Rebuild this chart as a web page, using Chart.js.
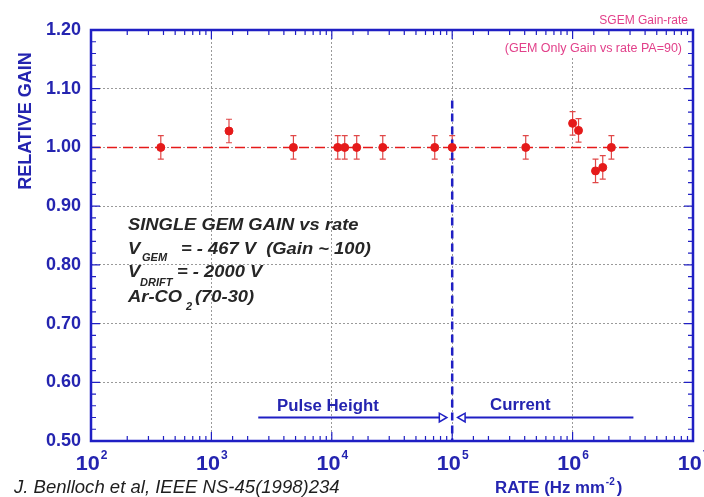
<!DOCTYPE html>
<html lang="en">
<head>
  <meta charset="UTF-8" />
  <title>SGEM Gain-rate</title>
  <script src="https://cdn.jsdelivr.net/npm/chart.js"></script>
  <style>
    html, body { margin: 0; padding: 0; background: #fff; }
    #wrap { width: 704px; height: 497px; }
  </style>
</head>
<body>
  <div id="wrap"><canvas id="gainChart" width="704" height="497"></canvas></div>

  <script>
    // measured points (rate in Hz/mm2, relative gain, error)
    const rates = [380, 1400, 4800, 11200, 12800, 16100, 26500, 71600, 100000, 408000, 1.0e6, 1.12e6, 1.55e6, 1.78e6, 2.1e6];
    const gains = [1.00, 1.028, 1.00, 1.00, 1.00, 1.00, 1.00, 1.00, 1.00, 1.00, 1.041, 1.029, 0.960, 0.966, 1.00];
    const gainErrors = [0.02, 0.02, 0.02, 0.02, 0.02, 0.02, 0.02, 0.02, 0.02, 0.02, 0.02, 0.02, 0.02, 0.02, 0.02];

    // reference line at unity and the pulse height / current boundary
    const unityX = [100, 2.9e6];
    const unityY = [1.0, 1.0];
    const boundaryX = [1e5, 1e5];
    const boundaryY = [1.08, 0.5];
    const pulseArrowX = [2450, 82000];
    const currentArrowX = [122000, 3.2e6];
    const arrowY = 0.54;

    const xDecades = [2, 3, 4, 5, 6, 7];

    const BLUE = '#2424b0';
    const FRAME = '#1f1fc4';
    const RED = '#e51a1a';
    const GRID = '#9a9a9a';
    const PINK = '#e2408a';
    const FONT = '"Liberation Sans", Arial, sans-serif';

    function isDecade(v) {
      const l = Math.log10(v);
      return Math.abs(l - Math.round(l)) < 1e-6;
    }

    // text with a slight horizontal stretch like the scanned original
    function stretchText(ctx, text, x, y, sx) {
      ctx.save();
      ctx.translate(x, y);
      ctx.scale(sx, 1);
      ctx.fillText(text, 0, 0);
      const w = ctx.measureText(text).width * sx;
      ctx.restore();
      return w;
    }

    const decor = {
      id: 'decor',
      beforeDatasetsDraw(chart) {
        const { ctx, scales: { x, y } } = chart;
        ctx.save();
        ctx.strokeStyle = '#e04848';
        ctx.lineWidth = 1.2;
        rates.forEach((r, i) => {
          const px = x.getPixelForValue(r);
          const top = y.getPixelForValue(gains[i] + gainErrors[i]);
          const bot = y.getPixelForValue(gains[i] - gainErrors[i]);
          ctx.beginPath();
          ctx.moveTo(px, top); ctx.lineTo(px, bot);
          ctx.moveTo(px - 3, top); ctx.lineTo(px + 3, top);
          ctx.moveTo(px - 3, bot); ctx.lineTo(px + 3, bot);
          ctx.stroke();
        });
        ctx.restore();
      },
      afterDraw(chart) {
        const { ctx, chartArea: a, scales: { x, y } } = chart;
        ctx.save();

        // header box hides the grid behind it
        ctx.fillStyle = '#fff';
        ctx.fillRect(492, 37, 194, 21);

        // inward ticks on all four sides
        ctx.strokeStyle = FRAME;
        ctx.lineWidth = 1.2;
        ctx.beginPath();
        x.ticks.forEach(t => {
          const px = x.getPixelForValue(t.value);
          const len = isDecade(t.value) ? 9 : 5;
          ctx.moveTo(px, a.bottom); ctx.lineTo(px, a.bottom - len);
          ctx.moveTo(px, a.top); ctx.lineTo(px, a.top + len);
        });
        for (let k = 0; k <= 35; k++) {
          const py = y.getPixelForValue(0.5 + 0.02 * k);
          const len = k % 5 === 0 ? 9 : 5;
          ctx.moveTo(a.left, py); ctx.lineTo(a.left + len, py);
          ctx.moveTo(a.right, py); ctx.lineTo(a.right - len, py);
        }
        ctx.stroke();

        // frame
        ctx.lineWidth = 2.5;
        ctx.strokeRect(a.left, a.top, a.right - a.left, a.bottom - a.top);

        // x tick labels 10^n
        ctx.fillStyle = BLUE;
        ctx.textBaseline = 'alphabetic';
        ctx.textAlign = 'left';
        xDecades.forEach(d => {
          const px = x.getPixelForValue(Math.pow(10, d));
          ctx.font = 'bold 20px ' + FONT;
          const wb = ctx.measureText('10').width * 1.08;
          ctx.font = 'bold 12px ' + FONT;
          const we = ctx.measureText(String(d)).width;
          const start = px - (wb + we) / 2;
          ctx.font = 'bold 20px ' + FONT;
          stretchText(ctx, '10', start, 470, 1.08);
          ctx.font = 'bold 12px ' + FONT;
          ctx.fillText(String(d), start + wb + 1, 459);
        });

        // y axis title
        ctx.save();
        ctx.translate(31, 121);
        ctx.rotate(-Math.PI / 2);
        ctx.font = 'bold 18px ' + FONT;
        ctx.textAlign = 'center';
        ctx.fillText('RELATIVE GAIN', 0, 0);
        ctx.restore();

        // x axis title
        ctx.font = 'bold 16px ' + FONT;
        let w = stretchText(ctx, 'RATE (Hz mm', 495, 493, 1.05);
        ctx.font = 'bold 10px ' + FONT;
        ctx.fillText('-2', 495 + w + 1, 485);
        ctx.font = 'bold 16px ' + FONT;
        stretchText(ctx, ')', 495 + w + 12, 493, 1.05);

        // region labels
        ctx.font = 'bold 16px ' + FONT;
        stretchText(ctx, 'Pulse Height', 277, 411, 1.05);
        stretchText(ctx, 'Current', 490, 410, 1.05);

        // citation
        ctx.fillStyle = '#1e1e1e';
        ctx.font = 'italic 18px ' + FONT;
        stretchText(ctx, 'J. Benlloch et al, IEEE NS-45(1998)234', 14, 493, 1.03);

        // conditions box
        ctx.fillStyle = '#262626';
        ctx.font = 'italic bold 17px ' + FONT;
        stretchText(ctx, 'SINGLE GEM GAIN vs rate', 128, 230, 1.08);
        stretchText(ctx, 'V', 128, 254, 1.08);
        stretchText(ctx, '= - 467 V  (Gain ~ 100)', 181, 254, 1.08);
        stretchText(ctx, 'V', 128, 277, 1.08);
        stretchText(ctx, '= - 2000 V', 177, 277, 1.08);
        stretchText(ctx, 'Ar-CO', 128, 302, 1.08);
        stretchText(ctx, '(70-30)', 195, 302, 1.08);
        ctx.font = 'italic bold 11px ' + FONT;
        ctx.fillText('GEM', 142, 261);
        ctx.fillText('DRIFT', 140, 286);
        ctx.fillText('2', 186, 310);

        // header
        ctx.fillStyle = PINK;
        ctx.textAlign = 'right';
        ctx.font = '12px ' + FONT;
        ctx.fillText('SGEM Gain-rate', 688, 24);
        ctx.font = '12.5px ' + FONT;
        ctx.fillText('(GEM Only Gain vs rate PA=90)', 682, 52);

        ctx.restore();
      }
    };

    const ctx = document.getElementById('gainChart').getContext('2d');
    new Chart(ctx, {
      type: 'scatter',
      data: {
        datasets: [
          {
            label: 'Relative gain',
            data: rates.map((r, i) => ({ x: r, y: gains[i] })),
            pointRadius: 4,
            pointBackgroundColor: RED,
            pointBorderColor: RED,
            showLine: false
          },
          {
            label: 'unity',
            data: unityX.map((v, i) => ({ x: v, y: unityY[i] })),
            showLine: true,
            borderColor: RED,
            borderWidth: 1.6,
            borderDash: [10, 6],
            pointRadius: 0
          },
          {
            label: 'boundary',
            data: boundaryX.map((v, i) => ({ x: v, y: boundaryY[i] })),
            showLine: true,
            borderColor: FRAME,
            borderWidth: 2.5,
            borderDash: [8, 5],
            pointRadius: 0
          },
          {
            label: 'pulse height',
            data: pulseArrowX.map(v => ({ x: v, y: arrowY })),
            showLine: true,
            borderColor: FRAME,
            borderWidth: 2,
            pointStyle: 'triangle',
            pointRadius: [0, 5],
            pointRotation: [0, 90],
            pointBackgroundColor: '#fff',
            pointBorderColor: FRAME,
            pointBorderWidth: 1.5
          },
          {
            label: 'current',
            data: currentArrowX.map(v => ({ x: v, y: arrowY })),
            showLine: true,
            borderColor: FRAME,
            borderWidth: 2,
            pointStyle: 'triangle',
            pointRadius: [5, 0],
            pointRotation: [270, 0],
            pointBackgroundColor: '#fff',
            pointBorderColor: FRAME,
            pointBorderWidth: 1.5
          }
        ]
      },
      options: {
        responsive: false,
        animation: false,
        layout: { padding: { top: 30, right: 11, left: 0, bottom: 0 } },
        plugins: { legend: { display: false }, tooltip: { enabled: false } },
        scales: {
          x: {
            type: 'logarithmic',
            min: 100,
            max: 1e7,
            afterFit: s => { s.height = 56; },
            ticks: { display: false, autoSkip: false },
            grid: {
              color: c => (c.tick && isDecade(c.tick.value)) ? GRID : 'rgba(0,0,0,0)',
              drawTicks: false,
              lineWidth: 1
            },
            border: { display: false, dash: [2, 2] }
          },
          y: {
            min: 0.5,
            max: 1.2,
            afterFit: s => { s.width = 91; },
            ticks: {
              stepSize: 0.1,
              callback: v => v.toFixed(2),
              font: { family: FONT, size: 18, weight: 'bold' },
              color: BLUE,
              padding: 10
            },
            grid: { color: GRID, drawTicks: false, lineWidth: 1 },
            border: { display: false, dash: [2, 2] }
          }
        }
      },
      plugins: [decor]
    });
  </script>
</body>
</html>
